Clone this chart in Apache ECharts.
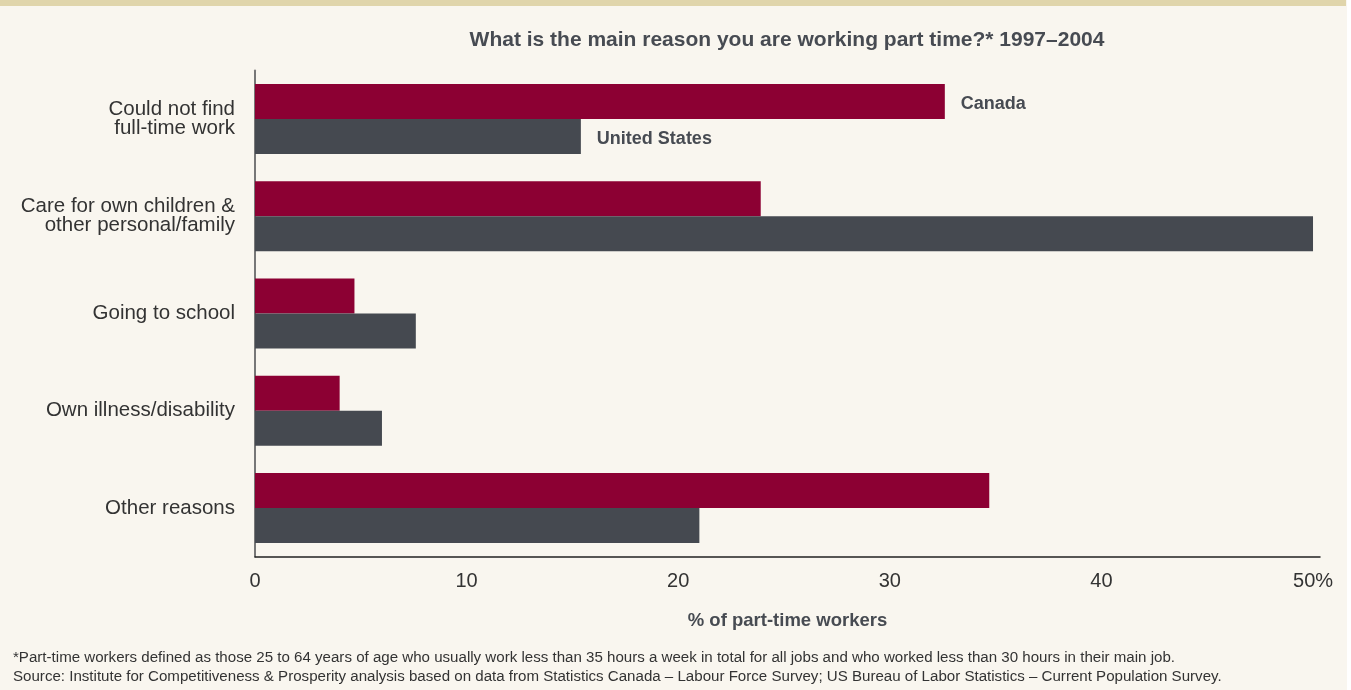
<!DOCTYPE html>
<html>
<head>
<meta charset="utf-8">
<script src="https://cdn.jsdelivr.net/npm/echarts@6/dist/echarts.min.js"></script>
<style>
html,body{margin:0;padding:0;background:#fff;}
#chart{width:1351px;height:690px;}
</style>
</head>
<body>
<div id="chart"></div>
<script>
const categories = [
  'Could not find\nfull-time work',
  'Care for own children &\nother personal/family',
  'Going to school',
  'Own illness/disability',
  'Other reasons'
];
const canada = [32.6, 23.9, 4.7, 4.0, 34.7];
const unitedStates = [15.4, 50.0, 7.6, 6.0, 21.0];
const xTicks = [0, 10, 20, 30, 40, 50];

const FONT = '"Liberation Sans", Arial, Helvetica, sans-serif';
const chart = echarts.init(document.getElementById('chart'));

function withFirstLabel(values, name) {
  return values.map((v, i) => i === 0 ? {
    value: v,
    label: {
      show: true, position: 'right', distance: 16, offset: [0, 2.5],
      formatter: name, fontFamily: FONT, fontWeight: 'bold',
      fontSize: 18, color: '#474b52'
    }
  } : v);
}

chart.setOption({
  backgroundColor: '#f9f6ef',
  animation: false,
  graphic: [{
    type: 'rect', left: 0, top: 0,
    shape: { width: 1346, height: 6 },
    style: { fill: '#e0d5ab' }
  }, {
    type: 'rect', left: 1347, top: 0,
    shape: { width: 4, height: 690 },
    style: { fill: '#ffffff' }
  }],
  title: [{
    text: 'What is the main reason you are working part time?* 1997–2004',
    left: 782, top: 25, textAlign: 'center',
    textStyle: { fontFamily: FONT, fontWeight: 'bold', fontSize: 21, color: '#474b52' }
  }, {
    text: '*Part-time workers defined as those 25 to 64 years of age who usually work less than 35 hours a week in total for all jobs and who worked less than 30 hours in their main job.\nSource: Institute for Competitiveness & Prosperity analysis based on data from Statistics Canada – Labour Force Survey; US Bureau of Labor Statistics – Current Population Survey.',
    left: 8, top: 644,
    textStyle: { fontFamily: FONT, fontWeight: 'normal', fontSize: 15.1, color: '#333', lineHeight: 18.5 }
  }],
  grid: { left: 255, right: 31, top: 70.5, height: 486, containLabel: false },
  xAxis: {
    type: 'value', min: 0, max: 50.33, interval: 10,
    name: '% of part-time workers', nameLocation: 'middle', nameGap: 55,
    nameTextStyle: { fontFamily: FONT, fontWeight: 'bold', fontSize: 18.5, color: '#474b52' },
    axisLine: { show: true, lineStyle: { color: '#222', width: 1.5 } },
    axisTick: { show: false },
    splitLine: { show: false },
    axisLabel: {
      margin: 15, fontFamily: FONT, fontSize: 20, color: '#333',
      showMaxLabel: true,
      formatter: v => xTicks.indexOf(v) === -1 ? '' : (v === 50 ? '50%' : String(v))
    }
  },
  yAxis: {
    type: 'category', data: categories, inverse: true,
    axisLine: { show: true, lineStyle: { color: '#777', width: 2 } },
    axisTick: { show: false },
    axisLabel: {
      margin: 20, fontFamily: FONT, fontSize: 20.5, color: '#333', lineHeight: 19, align: 'right'
    }
  },
  series: [{
    name: 'Canada', type: 'bar', barWidth: 35, barGap: '0%',
    itemStyle: { color: '#8c0033' },
    data: withFirstLabel(canada, 'Canada')
  }, {
    name: 'United States', type: 'bar', barWidth: 35, barGap: '0%',
    itemStyle: { color: '#454950' },
    data: withFirstLabel(unitedStates, 'United States')
  }]
});
</script>
</body>
</html>
